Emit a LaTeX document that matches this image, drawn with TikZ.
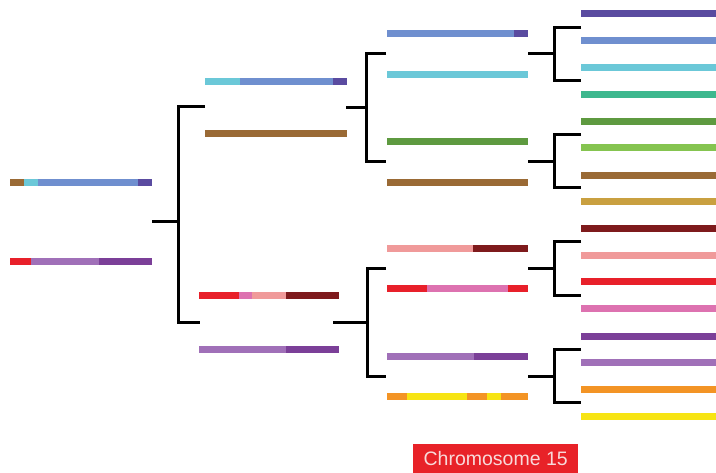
\documentclass[tikz,border=0pt]{standalone}
\usepackage{fontspec}
\setmainfont{Liberation Sans}
\definecolor{cbrown}{HTML}{9A6A35}
\definecolor{ccyan}{HTML}{6BC8D8}
\definecolor{cblue}{HTML}{6F8FCF}
\definecolor{cdblue}{HTML}{5A4BA0}
\definecolor{cred}{HTML}{E8202A}
\definecolor{clpurple}{HTML}{A070B8}
\definecolor{cdpurple}{HTML}{7B3F98}
\definecolor{cpink}{HTML}{DD72B0}
\definecolor{clpink}{HTML}{F09A9A}
\definecolor{cdred}{HTML}{7E1A1C}
\definecolor{cgreen}{HTML}{5E9A40}
\definecolor{clgreen}{HTML}{85C450}
\definecolor{cteal}{HTML}{3DB88E}
\definecolor{cgold}{HTML}{C9A040}
\definecolor{corange}{HTML}{F39425}
\definecolor{cyellow}{HTML}{F7E413}
\definecolor{clabel}{HTML}{E82228}
\definecolor{clabeltext}{HTML}{F8DADA}
\newcommand\segbar[2]{\foreach \a/\b/\c in {#2} {\fill[\c] (\a,#1-3.5) rectangle (\b,#1+3.5);}}
\begin{document}
\begin{tikzpicture}[x=1pt,y=-1pt,
  br/.style={line width=3pt,black,line join=miter,line cap=butt}]
\useasboundingbox (0,0) rectangle (716,473);
% level 0
\segbar{183}{10/24/cbrown,24/38/ccyan,38/138/cblue,138/152/cdblue}
\segbar{262}{10/31/cred,31/99/clpurple,99/152/cdpurple}
% level 1
\segbar{82}{205/240/ccyan,240/333/cblue,333/347/cdblue}
\segbar{134}{205/347/cbrown}
\segbar{296}{199/239/cred,239/252/cpink,252/286/clpink,286/339/cdred}
\segbar{350}{199/286/clpurple,286/339/cdpurple}
% level 2
\segbar{34}{387/514/cblue,514/528/cdblue}
\segbar{75}{387/528/ccyan}
\segbar{142}{387/528/cgreen}
\segbar{183}{387/528/cbrown}
\segbar{249}{387/473/clpink,473/528/cdred}
\segbar{289}{387/427/cred,427/508/cpink,508/528/cred}
\segbar{357}{387/474/clpurple,474/528/cdpurple}
\segbar{397}{387/407/corange,407/467/cyellow,467/487/corange,487/501/cyellow,501/528/corange}
% level 3
\segbar{14}{581/716/cdblue}
\segbar{41}{581/716/cblue}
\segbar{68}{581/716/ccyan}
\segbar{95}{581/716/cteal}
\segbar{122}{581/716/cgreen}
\segbar{148}{581/716/clgreen}
\segbar{176}{581/716/cbrown}
\segbar{202}{581/716/cgold}
\segbar{229}{581/716/cdred}
\segbar{256}{581/716/clpink}
\segbar{282}{581/716/cred}
\segbar{309}{581/716/cpink}
\segbar{337}{581/716/cdpurple}
\segbar{363}{581/716/clpurple}
\segbar{390}{581/716/corange}
\segbar{417}{581/716/cyellow}
% brackets
\coordinate (r0) at (152,222);
\coordinate (j0) at (178,222);
\draw[br] (r0) -- (j0);
\draw[br] (205,107) -- (178,107) -- (178,323) -- (200,323);
\coordinate (r1a) at (346,108);
\coordinate (j1a) at (366,108);
\draw[br] (r1a) -- (j1a);
\draw[br] (386,54) -- (366,54) -- (366,162) -- (386,162);
\coordinate (r1b) at (333,323);
\coordinate (j1b) at (367,323);
\draw[br] (r1b) -- (j1b);
\draw[br] (386,269) -- (367,269) -- (367,377) -- (386,377);
\foreach \m/\t/\b in {54/28/81,162/135/188,269/242/296,377/350/403}{
  \draw[br] (528,\m) -- (554,\m);
  \draw[br] (581,\t) -- (554,\t) -- (554,\b) -- (581,\b);
}
% label
\node (label) [fill=clabel, text=clabeltext, anchor=north west, inner sep=0pt,
  minimum width=165pt, minimum height=29pt, font=\fontsize{19.5}{21}\selectfont]
  at (413,444) {Chromosome 15};
\end{tikzpicture}
\end{document}
